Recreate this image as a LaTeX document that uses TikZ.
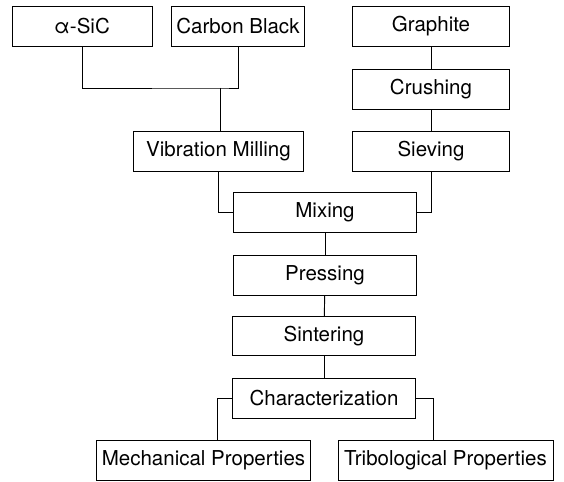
\documentclass[tikz,border=0pt]{standalone}
\usepackage{fontspec}
\setmainfont{TeX Gyre Heros}
\usepackage{tikz}
\usetikzlibrary{positioning, calc}

\begin{document}
\begin{tikzpicture}[
          x=0.03cm, y=-0.03cm,
          stepbox/.style={draw, line width=0.8pt, inner sep=1pt,
                          minimum height=1.2cm, align=center,
                          font=\fontsize{17.5}{20}\selectfont},
          link/.style={draw, line width=0.8pt}
        ]
        \useasboundingbox (0,0) rectangle (564,482);

        % Raw materials
        \node[stepbox, minimum width=4.2cm] (sic) at (82, 26.5) {α-SiC};
        \node[stepbox, minimum width=4.0cm] (cb)  at (238,26.5) {Carbon Black};
        \node[stepbox, minimum width=4.7cm] (gra) at (431,26.5) {Graphite};

        % Preparation
        \node[stepbox, minimum width=4.7cm] (cru) at (431, 89) {Crushing};
        \node[stepbox, minimum width=4.7cm] (sie) at (431,151) {Sieving};
        \node[stepbox, minimum width=5.1cm] (vib) at (218.5,151) {Vibration Milling};

        % Main line
        \node[stepbox, minimum width=5.5cm] (mix) at (325,212.5) {Mixing};
        \node[stepbox, minimum width=5.5cm] (pre) at (325,275) {Pressing};
        \node[stepbox, minimum width=5.5cm, minimum height=1.15cm] (sin) at (324,336) {Sintering};
        \node[stepbox, minimum width=5.5cm] (cha) at (324,398) {Characterization};

        % Results
        \node[stepbox, minimum width=6.4cm] (mech) at (203.5,460) {Mechanical Properties};
        \node[stepbox, minimum width=6.45cm] (trib) at (445.5,460) {Tribological Properties};

        % Connections
        \coordinate (j1) at (220,88);
        \draw[link] (sic.south) |- (j1) -| (cb.south);
        \draw[link] (j1) -- (j1 |- vib.north);
        \draw[link] (gra) -- (cru);
        \draw[link] (cru) -- (sie);
        \draw[link] (vib.south) |- (mix.west);
        \draw[link] (sie.south) |- (mix.east);
        \draw[link] (mix) -- (pre);
        \draw[link] (pre) -- (sin);
        \draw[link] (sin) -- (cha);
        \draw[link] (cha.west) -- ++(-14,0) coordinate (cl) -- (cl |- mech.north);
        \draw[link] (cha.east) -- ++(17,0) coordinate (cr) -- (cr |- trib.north);
      \end{tikzpicture}
\end{document}
